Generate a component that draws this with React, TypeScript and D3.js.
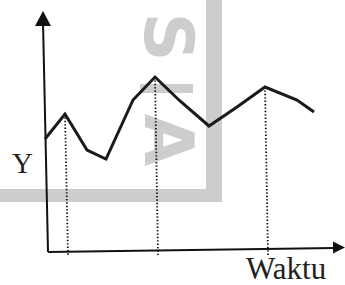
import React from "react";
import * as d3 from "d3";

// Data (arbitrary units)
const waktu = [0, 20, 42, 61, 88, 110, 135, 164, 192, 220, 252, 269];
const yValues = [113, 138, 102, 93, 152, 175, 151, 126, 145, 165, 152, 140];
const peakTimes = [20, 110, 220];
const yLabel = "Y";
const xLabel = "Waktu";

const W = 345;
const H = 285;

export default function App() {
  const x = d3.scaleLinear().domain([0, 300]).range([45, 345]);
  const y = d3.scaleLinear().domain([0, 240]).range([252, 12]);

  const pts: [number, number][] = waktu.map((t, i) => [x(t), y(yValues[i])]);
  const line = d3.line().curve(d3.curveLinear)(pts) as string;

  const peaks = peakTimes.map((t) => {
    const i = waktu.indexOf(t);
    return { px: x(t), py: y(yValues[i]) };
  });

  const x0 = x(0);
  const yBase = y(0);
  const gray = "#cdcdcd";

  return (
    <svg
      width={W}
      height={H}
      style={{ position: "absolute", left: 0, top: 0, background: "#fff" }}
    >
      {/* faint watermark */}
      <g fill={gray}>
        <rect x={206} y={0} width={16} height={200} />
        <rect x={0} y={189} width={222} height={13} />
        <text
          transform="translate(145,37) rotate(90)"
          fontFamily="DejaVu Sans"
          fontWeight="bold"
          fontSize={68}
          textAnchor="middle"
        >
          S
        </text>
        <rect x={140} y={84} width={53} height={9} />
        <text
          transform="translate(145,140) rotate(90)"
          fontFamily="DejaVu Sans"
          fontWeight="bold"
          fontSize={68}
          textAnchor="middle"
        >
          A
        </text>
      </g>

      {/* dotted drop lines */}
      {peaks.map((p, i) => (
        <line
          key={i}
          x1={p.px}
          y1={p.py}
          x2={p.px + 3}
          y2={yBase + 3}
          stroke="#111"
          strokeWidth={1.8}
          strokeDasharray="1.4,2"
        />
      ))}

      {/* axes */}
      <line x1={x0 - 2} y1={22} x2={x0 + 3} y2={yBase} stroke="#111" strokeWidth={2} />
      <polygon
        points={`${x0 - 2},11 ${x0 - 10},26 ${x0 + 6},26`}
        fill="#111"
      />
      <line x1={x0 + 3} y1={yBase} x2={335} y2={yBase - 4} stroke="#111" strokeWidth={2} />
      <polygon points={`345,247.5 333,241.5 333,253.5`} fill="#111" />

      {/* data line */}
      <path
        d={line}
        fill="none"
        stroke="#1a1a1a"
        strokeWidth={3}
        strokeLinejoin="miter"
      />

      {/* labels */}
      <text x={12} y={173} fontFamily="Liberation Serif" fontSize={29} fill="#222">
        {yLabel}
      </text>
      <text x={246} y={279} fontFamily="Liberation Serif" fontSize={31} fill="#222">
        {xLabel}
      </text>
    </svg>
  );
}
